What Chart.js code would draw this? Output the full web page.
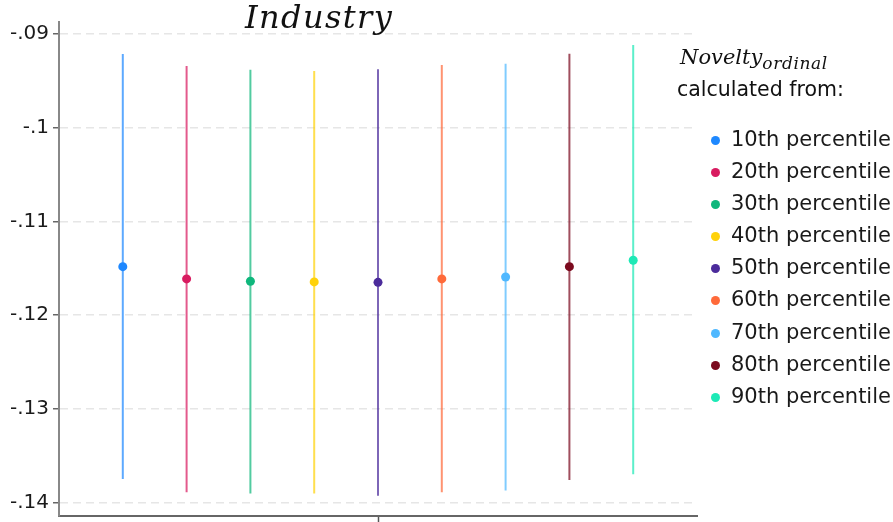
<!DOCTYPE html>
<html>
<head>
<meta charset="utf-8">
<script src="https://cdn.jsdelivr.net/npm/chart.js@4"></script>
<style>
  html, body { margin: 0; padding: 0; background: #fff; }
  #wrap { position: relative; width: 893px; height: 522px; }
  #plotTitle {
    position: absolute; left: 245px; top: 1px;
    font: italic 32px "DejaVu Serif", serif; line-height: 32px;
    color: #111; white-space: nowrap; letter-spacing: 1.4px;
  }
  #legendHead {
    position: absolute; left: 677px; top: 44px; color: #111; white-space: nowrap;
  }
  #legendHead .nov { font: italic 21px "DejaVu Serif", serif; line-height: 26px; padding-left: 3px; }
  #legendHead .nov sub { font-size: 17px; vertical-align: -5px; letter-spacing: 0.6px; }
  #legendHead .calc { font: 20.5px "DejaVu Sans", sans-serif; line-height: 26px; }
  #legendItems { position: absolute; left: 711px; top: 127px; }
  .row { height: 32.1px; line-height: 32.1px; white-space: nowrap; font: 21px "DejaVu Sans", sans-serif; color: #1a1a1a; }
  .row .dot { display: inline-block; width: 9px; height: 9px; border-radius: 50%; margin-right: 11px; vertical-align: 1px; }
</style>
</head>
<body>
<div id="wrap">
  <canvas id="chart"></canvas>
  <div id="plotTitle">Industry</div>
  <div id="legendHead">
    <div class="nov">Novelty<sub>ordinal</sub></div>
    <div class="calc">calculated from:</div>
  </div>
  <div id="legendItems"></div>
</div>
<script>
// series
const seriesLabels = ['10th percentile', '20th percentile', '30th percentile', '40th percentile',
  '50th percentile', '60th percentile', '70th percentile', '80th percentile', '90th percentile'];
const xPositions = [1, 2, 3, 4, 5, 6, 7, 8, 9];
const estimates = [-0.11482, -0.11613, -0.11638, -0.11645, -0.11649, -0.11613, -0.11592, -0.11482, -0.11414];
const ciLow = [-0.13747, -0.13889, -0.13903, -0.13903, -0.13925, -0.13889, -0.13871, -0.13757, -0.13697];
const ciHigh = [-0.09213, -0.09341, -0.09381, -0.09395, -0.09377, -0.09331, -0.09317, -0.0921, -0.09117];

// axes
const yTickValues = [-0.14, -0.13, -0.12, -0.11, -0.10, -0.09];
const yTickLabels = ['-.14', '-.13', '-.12', '-.11', '-.1', '-.09'];
const xTickValues = [5];

const seriesColors = ['#1e88ff', '#d81b60', '#0fb77c', '#ffd20a', '#4b2b9b',
  '#ff6a3a', '#4fb8ff', '#7b0a1e', '#1de9b6'];

function withAlpha(hex, a) {
  const n = parseInt(hex.slice(1), 16);
  return `rgba(${n >> 16}, ${(n >> 8) & 255}, ${n & 255}, ${a})`;
}

const datasets = seriesLabels.map((label, i) => ({
  label: label,
  data: [
    { x: xPositions[i], y: ciLow[i] },
    { x: xPositions[i], y: estimates[i] },
    { x: xPositions[i], y: ciHigh[i] }
  ],
  borderColor: withAlpha(seriesColors[i], 0.72),
  borderWidth: 2,
  pointRadius: [0, 4.5, 0],
  pointHoverRadius: [0, 4.5, 0],
  pointBackgroundColor: seriesColors[i],
  pointBorderWidth: 0,
  fill: false
}));

new Chart(document.getElementById('chart'), {
  type: 'line',
  data: { datasets: datasets },
  options: {
    responsive: true,
    maintainAspectRatio: false,
    animation: false,
    events: [],
    layout: { padding: { top: 22, right: 196, left: 0, bottom: 0 } },
    plugins: { legend: { display: false }, tooltip: { enabled: false } },
    scales: {
      x: {
        type: 'linear',
        min: 0,
        max: 10,
        afterBuildTicks: scale => { scale.ticks = xTickValues.map(v => ({ value: v })); },
        afterFit: scale => { scale.height = 6; scale.paddingLeft = 0; scale.paddingRight = 0; },
        ticks: { display: false },
        grid: { drawOnChartArea: false, drawTicks: true, tickLength: 6, tickColor: '#555', tickWidth: 1.5 },
        border: { color: '#666', width: 2 }
      },
      y: {
        type: 'linear',
        min: -0.14142,
        max: -0.08872,
        afterBuildTicks: scale => { scale.ticks = yTickValues.map(v => ({ value: v })); },
        afterFit: scale => { scale.width = 59; scale.paddingTop = 0; scale.paddingBottom = 0; },
        ticks: {
          padding: 4,
          color: '#1a1a1a',
          font: { family: 'DejaVu Sans', size: 20 },
          callback: v => {
            const idx = yTickValues.findIndex(t => Math.abs(t - v) < 1e-9);
            return idx >= 0 ? yTickLabels[idx] : '';
          }
        },
        grid: { color: '#e6e6e6', lineWidth: 1.5, tickLength: 6, tickColor: '#666', tickWidth: 1.5, tickBorderDash: [] },
        border: { color: '#888', width: 2, dash: [8, 5] }
      }
    }
  }
});

// legend built from the same series arrays
const legendBox = document.getElementById('legendItems');
seriesLabels.forEach((label, i) => {
  const row = document.createElement('div');
  row.className = 'row';
  const dot = document.createElement('span');
  dot.className = 'dot';
  dot.style.background = seriesColors[i];
  row.appendChild(dot);
  row.appendChild(document.createTextNode(label));
  legendBox.appendChild(row);
});
</script>
</body>
</html>
